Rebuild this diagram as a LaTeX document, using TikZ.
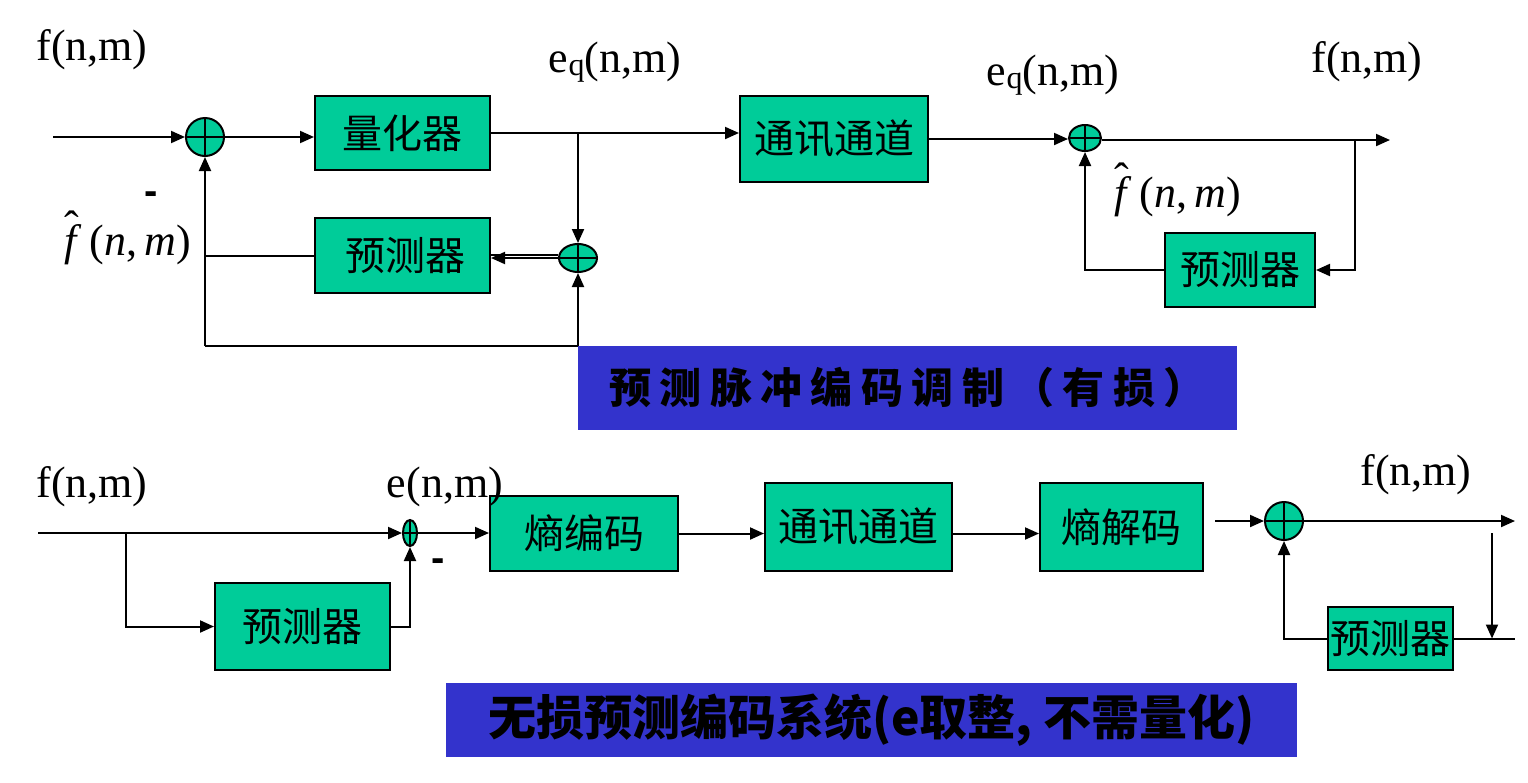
\RequirePackage{fix-cm}
\documentclass[tikz,border=0pt]{standalone}
\usepackage{fontspec}
\setmainfont{Liberation Serif}
\setsansfont{Liberation Sans}
\newfontfamily\cjk{Noto Sans CJK SC}
\newfontfamily\cjkcap{Noto Sans CJK SC}[LetterSpace=20]
\usetikzlibrary{arrows.meta,shapes.geometric}
\definecolor{boxgreen}{RGB}{0,204,153}
\definecolor{capblue}{RGB}{51,51,204}
\tikzset{
  box/.style={draw, line width=2pt, fill=boxgreen, inner sep=0pt,
    font=\cjk\fontsize{40}{48}\selectfont},
  sumc/.style={draw, line width=2pt, fill=boxgreen, ellipse, inner sep=0pt,
    path picture={\draw[line width=2pt]
      (path picture bounding box.north) -- (path picture bounding box.south)
      (path picture bounding box.west) -- (path picture bounding box.east);}},
  arr/.style={-{Triangle[length=14pt,width=12pt]}, line width=2pt},
  ln/.style={line width=2pt},
  lab/.style={inner sep=0pt, font=\fontsize{44}{52}\selectfont},
  mlab/.style={inner sep=0pt, font=\fontsize{44}{52}\selectfont},
  minus/.style={inner sep=0pt, font=\sffamily\bfseries\fontsize{40}{48}\selectfont},
  capbox/.style={fill=capblue, inner sep=0pt}
}
\newcommand{\eqlab}{e\raisebox{-3pt}{\fontsize{32}{36}\selectfont q}(n,m)}
\newcommand{\fhat}{\textit{f}\llap{\raisebox{0.32em}{ˆ}\hspace{0.08em}}\,(\textit{n},\,\textit{m})}
\begin{document}
\begin{tikzpicture}[x=1pt,y=-1pt]
\useasboundingbox (0,0) rectangle (1528,782);

% ---------- top diagram ----------
\node[sumc, minimum width=38pt, minimum height=38pt] (s1) at (205,137) {};
\node[box, minimum width=175pt, minimum height=74pt] (q) at (402.5,133) {量化器};
\node[box, minimum width=188pt, minimum height=86pt] (ch1) at (834,139) {通讯通道};
\node[box, minimum width=175pt, minimum height=75pt] (p1) at (402.5,255.5) {\,预测器};
\node[sumc, minimum width=38pt, minimum height=28pt] (s2) at (578,258) {};
\node[sumc, minimum width=32pt, minimum height=26pt] (s3) at (1085,138) {};
\node[box, minimum width=150pt, minimum height=74pt] (p2) at (1240,270) {预测器};

\coordinate (in1) at (53,137);
\coordinate (b1) at (578,133);
\coordinate (c1) at (205,346);
\coordinate (o1) at (1390,140);
\coordinate (b2) at (1355,140);

\draw[arr] (in1) -- (s1.west);
\draw[arr] (s1.east) -- (s1.east -| q.west);
\draw[arr] (q.east) -- (q.east -| ch1.west);
\draw[arr] (b1) -- (s2.north);
\draw[arr] (s2.west) -- (s2.west -| p1.east);
\draw[ln] ([yshift=3.5pt]s2.west) -- ([yshift=3.5pt]s2.west -| p1.east);
\draw[ln] (p1.west) -- (p1.west -| s1.south);
\draw[arr] (c1) -- (s1.south);
\draw[arr] (c1) -| (s2.south);
\draw[arr] (ch1.east) -- (ch1.east -| s3.west);
\draw[arr] (s3.east |- o1) -- (o1);
\draw[arr] (b2) |- (p2.east);
\draw[arr] (p2.west) -| (s3.south);

\node[lab] (t1) at (92,50) {f(n,m)};
\node[lab] (t2) at (615,62) {\eqlab};
\node[lab] (t3) at (1053,75) {\eqlab};
\node[lab] (t4) at (1367,62) {f(n,m)};
\node[minus] (m1) at (151,198) {-};
\node[mlab] (h1) at (128,238) {\fhat};
\node[mlab] (h2) at (1178,190) {\fhat};

\node[capbox, minimum width=659pt, minimum height=84pt] (cap1) at (907.5,388)
  {\cjkcap\bfseries\fontsize{42}{50}\selectfont 预测脉冲编码调制（有损）};

% ---------- bottom diagram ----------
\node[sumc, minimum width=14pt, minimum height=26pt] (s4) at (410,533) {};
\node[box, minimum width=175pt, minimum height=87pt] (p3) at (302.5,626.5) {预测器};
\node[box, minimum width=188pt, minimum height=75pt] (e1) at (584,533.5) {熵编码};
\node[box, minimum width=187pt, minimum height=88pt] (ch2) at (858.5,527) {通讯通道};
\node[box, minimum width=163pt, minimum height=88pt] (d1) at (1121.5,527) {熵解码};
\node[sumc, minimum width=38pt, minimum height=38pt] (s5) at (1284,521) {};
\node[box, minimum width=125pt, minimum height=63pt] (p4) at (1390.5,638.5) {预测器};

\coordinate (in2) at (38,533);
\coordinate (b3) at (126,533);
\coordinate (in3) at (1215,521);
\coordinate (o2) at (1515,521);
\coordinate (b4) at (1492,533);
\coordinate (o3) at (1515,638.5);

\draw[ln] (in2) -- (b3);
\draw[arr] (b3) -- (s4.west);
\draw[arr] (b3) |- (p3.west);
\draw[arr] (p3.east) -| (s4.south);
\draw[arr] (s4.east) -- (s4.east -| e1.west);
\draw[arr] (e1.east) -- (e1.east -| ch2.west);
\draw[arr] (ch2.east |- e1.east) -- (d1.west |- e1.east);
\draw[arr] (in3) -- (s5.west);
\draw[arr] (s5.east) -- (o2);
\draw[arr] (b4) -- (b4 |- p4.east);
\draw[ln] (p4.east) -- (o3);
\draw[arr] (p4.west) -| (s5.south);

\node[lab] (t5) at (92,487) {f(n,m)};
\node[lab] (t6) at (445,487) {e(n,m)};
\node[minus] (m2) at (438,565) {-};
\node[lab] (t7) at (1416,475) {f(n,m)};

\node[capbox, minimum width=851pt, minimum height=74pt] (cap2) at (871.5,720)
  {\cjk\bfseries\fontsize{48}{56}\selectfont 无损预测编码系统(e取整, 不需量化)};
\end{tikzpicture}
\end{document}
